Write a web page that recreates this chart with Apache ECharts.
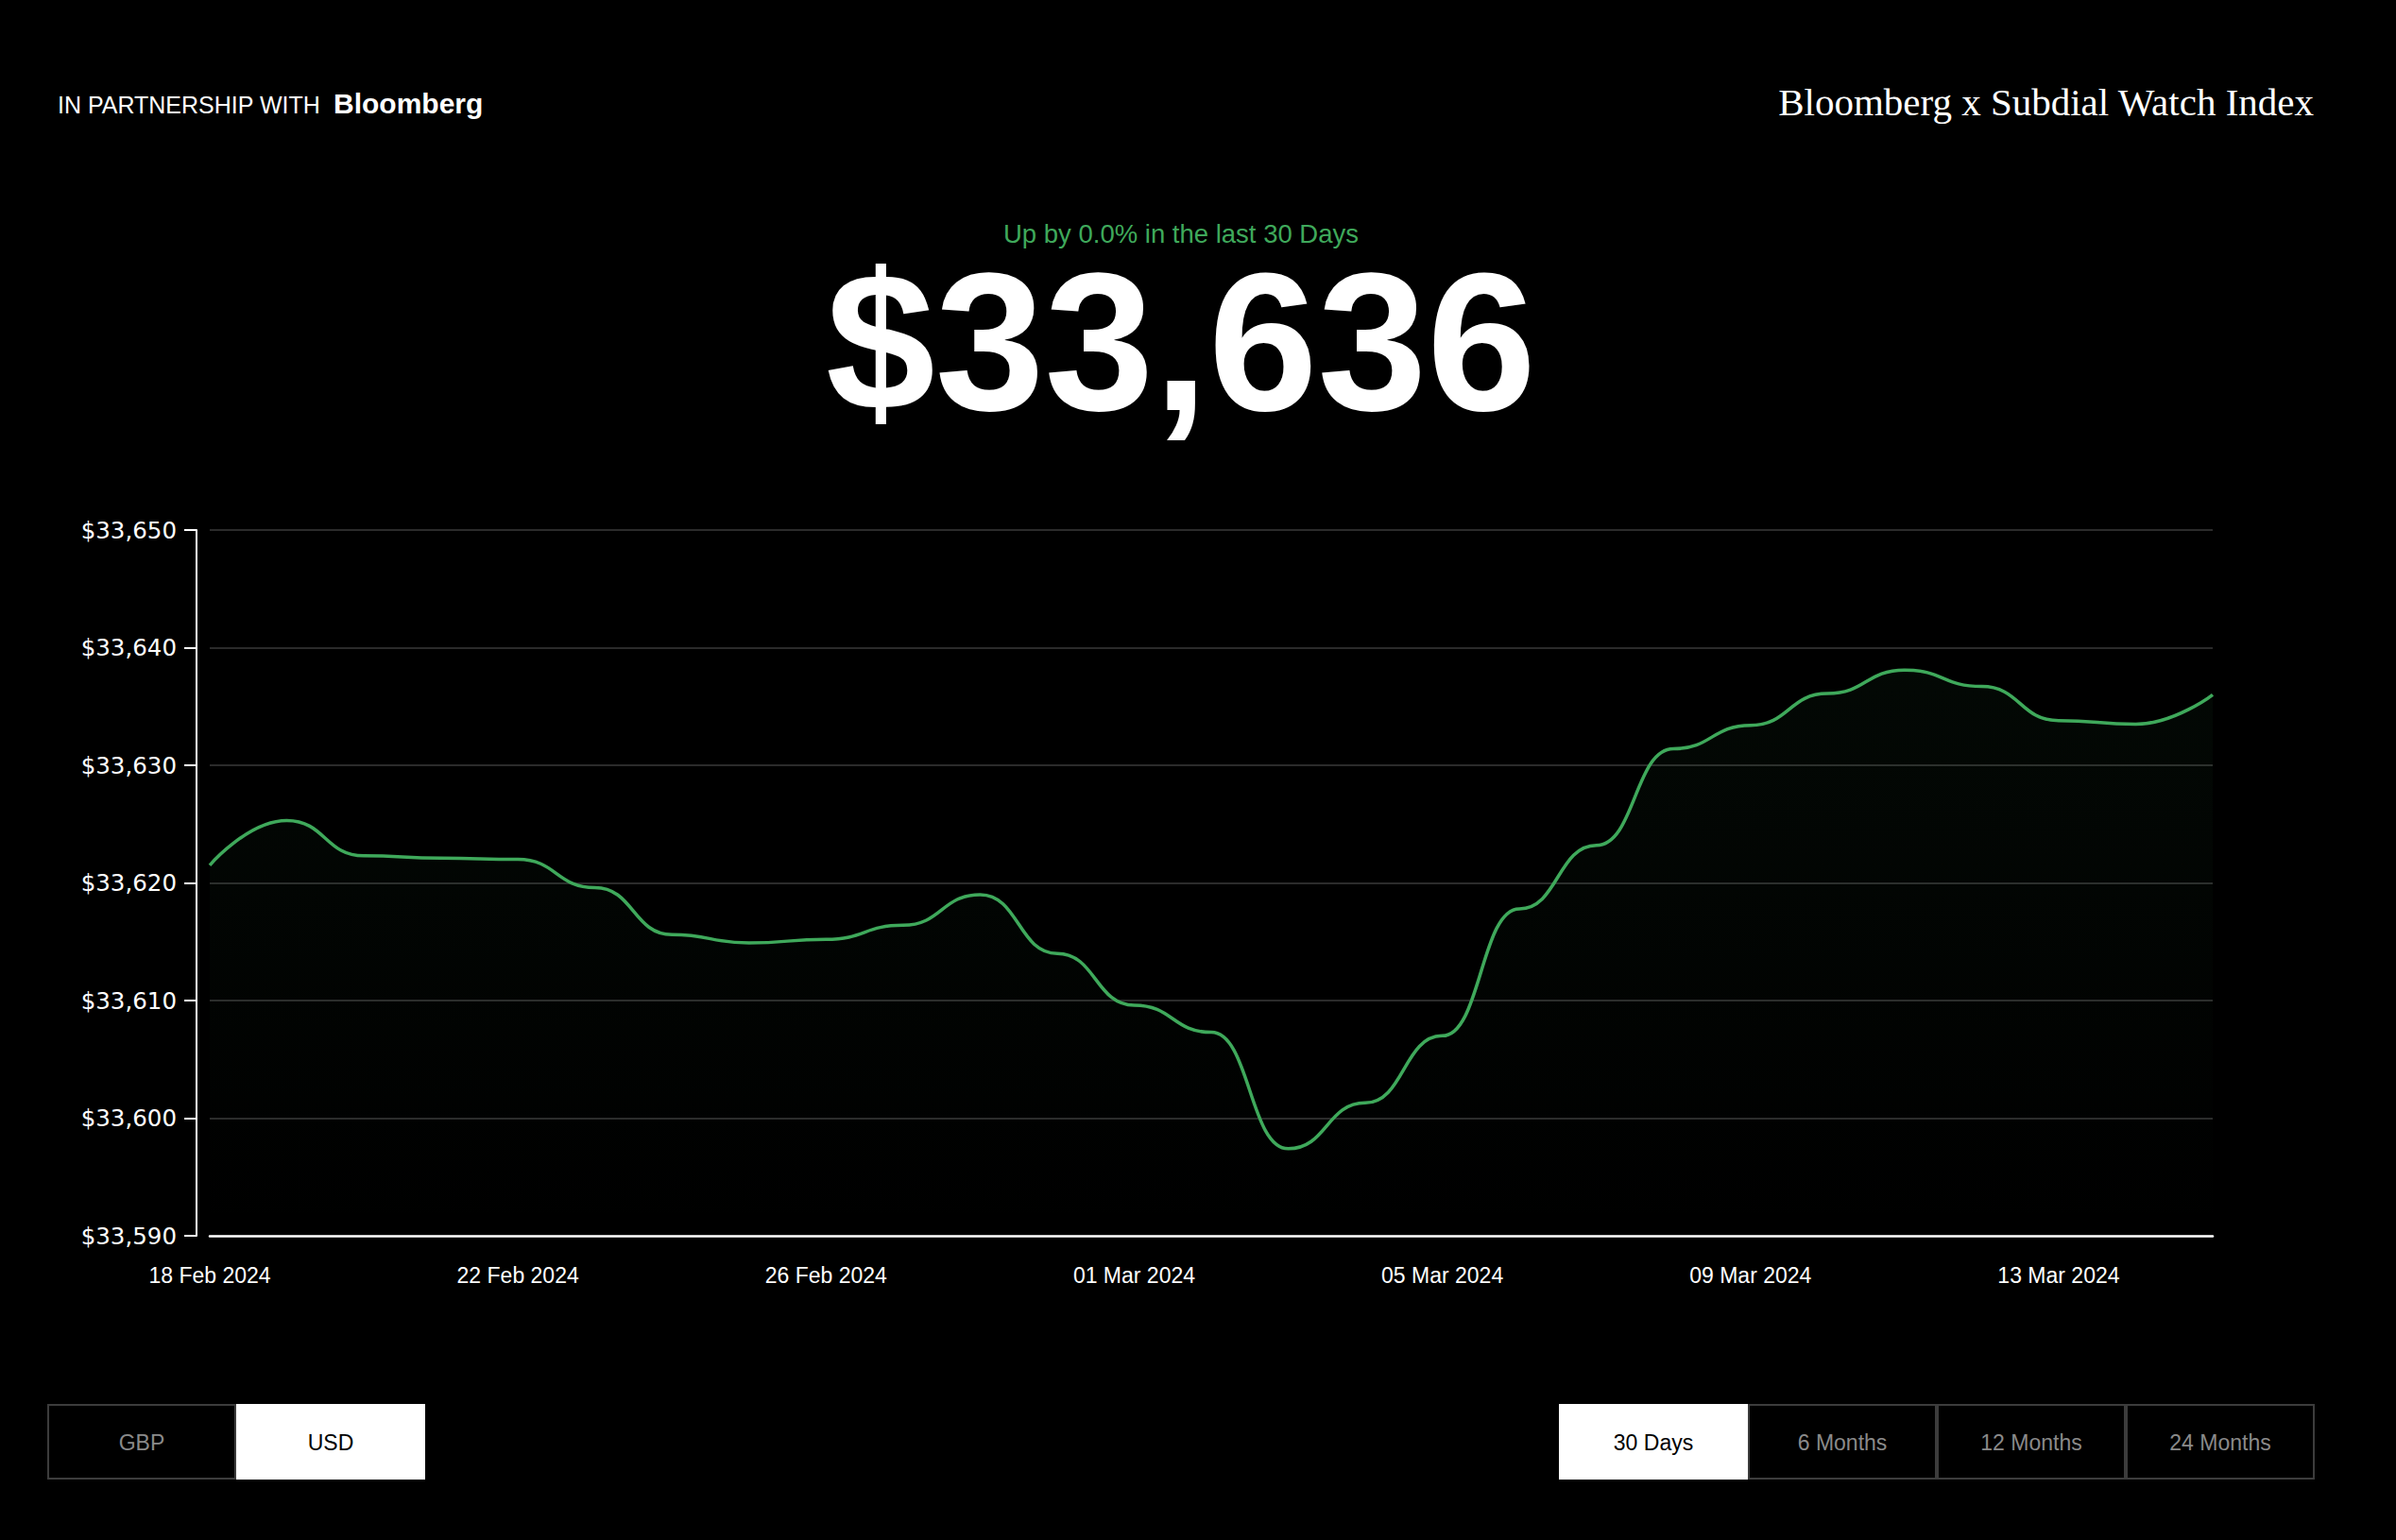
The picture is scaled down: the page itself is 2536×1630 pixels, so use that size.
<!DOCTYPE html>
<html>
<head>
<meta charset="utf-8">
<script src="https://cdn.jsdelivr.net/npm/echarts@6/dist/echarts.min.js"></script>
<style>
  html, body { margin: 0; padding: 0; background: #000; }
  #chart { width: 2536px; height: 1630px; }
</style>
</head>
<body>
<div id="chart"></div>
<script>
// ---- data ----
const dates = [
  '18 Feb 2024', '19 Feb 2024', '20 Feb 2024', '21 Feb 2024', '22 Feb 2024',
  '23 Feb 2024', '24 Feb 2024', '25 Feb 2024', '26 Feb 2024', '27 Feb 2024',
  '28 Feb 2024', '29 Feb 2024', '01 Mar 2024', '02 Mar 2024', '03 Mar 2024',
  '04 Mar 2024', '05 Mar 2024', '06 Mar 2024', '07 Mar 2024', '08 Mar 2024',
  '09 Mar 2024', '10 Mar 2024', '11 Mar 2024', '12 Mar 2024', '13 Mar 2024',
  '14 Mar 2024', '15 Mar 2024'
];
const indexValues = [
  33621.5, 33625.3, 33622.3, 33622.1, 33622.0,
  33619.6, 33615.6, 33614.9, 33615.2, 33616.4,
  33619.0, 33614.0, 33609.6, 33607.3, 33597.4,
  33601.3, 33607.0, 33617.8, 33623.2, 33631.4,
  33633.4, 33636.1, 33638.1, 33636.7, 33633.8,
  33633.5, 33636.0
];
const yMin = 33590;
const yMax = 33650;
const yStep = 10;
const headlineValue = '$33,636';
const changeText = 'Up by 0.0% in the last 30 Days';
const currencyButtons = ['GBP', 'USD'];
const currencySelected = 'USD';
const rangeButtons = ['30 Days', '6 Months', '12 Months', '24 Months'];
const rangeSelected = '30 Days';

// ---- styling ----
const GREEN = '#3fa95b';
const GRID_GRAY = '#3a3a3a';
const BORDER_GRAY = '#3c3c3c';

function buttonGroup(labels, selected, x0, y0, w, h) {
  const els = [];
  labels.forEach(function (lab, i) {
    const x = x0 + i * w;
    const sel = lab === selected;
    els.push({
      type: 'rect',
      shape: sel ? { x: x, y: y0, width: w, height: h } : { x: x + 1, y: y0 + 1, width: w - 2, height: h - 2 },
      style: sel ? { fill: '#ffffff' } : { fill: '#000000', stroke: BORDER_GRAY, lineWidth: 2 },
      z: 10
    });
    els.push({
      type: 'text',
      x: x + w / 2,
      y: y0 + h / 2 + 1,
      style: {
        text: lab,
        fill: sel ? '#000000' : '#8a8a8a',
        fontSize: 23,
        fontFamily: 'Liberation Sans, Arial, sans-serif',
        align: 'center',
        verticalAlign: 'middle'
      },
      z: 11
    });
  });
  return els;
}

const chart = echarts.init(document.getElementById('chart'), null, { renderer: 'svg' });

const graphics = [
  {
    type: 'text', x: 61, y: 111,
    style: { text: 'IN PARTNERSHIP WITH', fill: '#ffffff', fontSize: 25,
      fontFamily: 'Liberation Sans, Arial, sans-serif', align: 'left', verticalAlign: 'middle' }
  },
  {
    type: 'text', x: 353, y: 109,
    style: { text: 'Bloomberg', fill: '#ffffff', fontSize: 30, fontWeight: 'bold',
      fontFamily: 'Liberation Sans, Arial, sans-serif', align: 'left', verticalAlign: 'middle' }
  },
  {
    type: 'text', x: 2449, y: 108,
    style: { text: 'Bloomberg x Subdial Watch Index', fill: '#ffffff', fontSize: 41,
      fontFamily: 'Liberation Serif, Times New Roman, serif', align: 'right', verticalAlign: 'middle' }
  },
  {
    type: 'text', x: 1250, y: 247,
    style: { text: changeText, fill: GREEN, fontSize: 27.5, lineHeight: 28,
      fontFamily: 'Liberation Sans, Arial, sans-serif', align: 'center', verticalAlign: 'middle' }
  },
  {
    type: 'text', x: 1250, y: 362,
    style: { text: headlineValue, fill: '#ffffff', fontSize: 208, fontWeight: 'bold', lineHeight: 150,
      fontFamily: 'Liberation Sans, Arial, sans-serif', align: 'center', verticalAlign: 'middle' }
  }
].concat(
  buttonGroup(currencyButtons, currencySelected, 50, 1486, 200, 80),
  buttonGroup(rangeButtons, rangeSelected, 1650, 1486, 200, 80)
);

const option = {
  backgroundColor: '#000000',
  animation: false,
  grid: { left: 222, right: 194, top: 561, bottom: 322, containLabel: false },
  xAxis: {
    type: 'category',
    data: dates,
    boundaryGap: false,
    axisLine: { show: true, lineStyle: { color: '#ffffff', width: 2.5 } },
    axisTick: { show: false },
    axisLabel: {
      interval: 3,
      color: '#ffffff',
      fontSize: 23,
      fontFamily: 'Liberation Sans, Arial, sans-serif',
      margin: 30,
      hideOverlap: false
    },
    splitLine: { show: false }
  },
  yAxis: {
    type: 'value',
    min: yMin,
    max: yMax,
    interval: yStep,
    offset: 14,
    axisLine: { show: true, lineStyle: { color: '#ffffff', width: 2 } },
    axisTick: { show: true, length: 13, lineStyle: { color: '#ffffff', width: 2 } },
    axisLabel: {
      color: '#ffffff',
      fontSize: 24.5,
      fontFamily: 'DejaVu Sans, sans-serif',
      margin: 21,
      padding: [0, 0, 8, 0],
      formatter: function (v) { return '$' + v.toLocaleString('en-US'); }
    },
    splitLine: { show: true, lineStyle: { color: GRID_GRAY, width: 1.5 } }
  },
  series: [{
    type: 'line',
    data: indexValues,
    smooth: 0.5,
    smoothMonotone: 'x',
    symbol: 'none',
    lineStyle: { color: GREEN, width: 3.5 },
    areaStyle: {
      color: new echarts.graphic.LinearGradient(0, 0, 0, 1, [
        { offset: 0, color: 'rgba(63,169,91,0.07)' },
        { offset: 1, color: 'rgba(63,169,91,0.0)' }
      ])
    }
  }],
  graphic: graphics
};

chart.setOption(option);
</script>
</body>
</html>
